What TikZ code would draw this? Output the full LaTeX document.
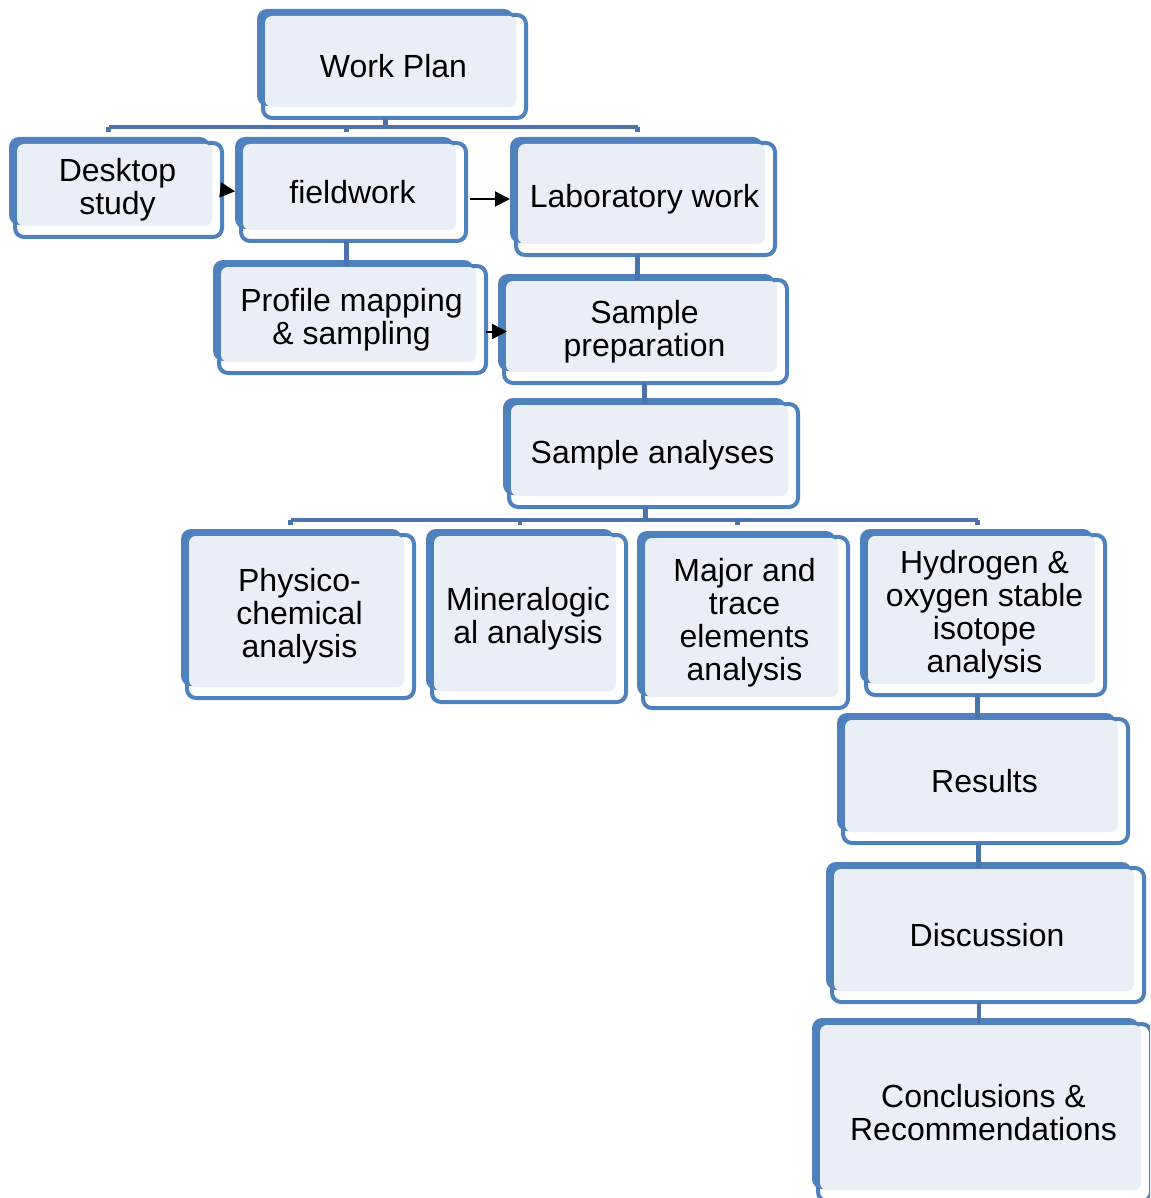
\documentclass[tikz,border=0pt]{standalone}
\usepackage{fontspec}
\setmainfont{Liberation Sans}
\usetikzlibrary{arrows.meta,calc}
\definecolor{boxblue}{HTML}{4F81BD}
\definecolor{lightfill}{HTML}{EAEFF7}
\definecolor{connblue}{HTML}{4A74AA}
\tikzset{
  frame/.style={draw=boxblue, line width=4pt, fill=white, rounded corners=9pt, rectangle, inner sep=0pt, outer sep=0pt},
  conn/.style={draw=connblue, line width=4.5pt},
  arr/.style={draw=black, line width=2pt, -{Triangle[length=15pt,width=15pt]}},
  lbl/.style={align=center, font=\fontsize{32}{33}\selectfont, text=black, inner sep=0pt}
}
% name, x0, y0, x1, y1, text
\newcommand\mybox[6]{%
  \node[frame, minimum width={#4-#2-8}, minimum height={#5-#3-8}] (#1) at ({(#2+#4+4)/2},{(#3+#5+4)/2}) {};
  \fill[boxblue, rounded corners=10pt] (#2,#3) rectangle ({#4-14},{#5-14});
  \fill[lightfill, rounded corners=7pt] ({#2+8},{#3+7}) rectangle ({#4-12},{#5-13});
  \node[lbl] (#1-t) at ({(#2+#4)/2+1},{(#3+#5)/2+2}) {#6};
}
\begin{document}
\begin{tikzpicture}[x=1pt,y=-1pt]
\useasboundingbox (0,0) rectangle (1150,1198);
\clip (0,0) rectangle (1150,1198);
\fill[white] (0,0) rectangle (1150,1198);
\coordinate (busA) at (0,127);
\coordinate (busB) at (0,520);

\mybox{wp}{257}{9}{528}{120}{Work Plan}
\mybox{ds}{9}{137}{224}{239}{Desktop\\study}
\mybox{fw}{235}{137}{468}{243}{fieldwork}
\mybox{lw}{510}{137}{777}{257}{Laboratory work}
\mybox{pm}{213}{260}{488}{375}{Profile mapping\\\& sampling}
\mybox{sp}{498}{274}{789}{385}{Sample\\preparation}
\mybox{sa}{503}{398}{800}{509}{Sample analyses}
\mybox{pc}{181}{529}{416}{700}{Physico-\\chemical\\analysis}
\mybox{mi}{426}{529}{628}{704}{Mineralogic\\al analysis}
\mybox{mt}{637}{531}{850}{710}{Major and\\trace\\elements\\analysis}
\mybox{hy}{860}{529}{1107}{697}{Hydrogen \&\\oxygen stable\\isotope\\analysis}
\mybox{re}{837}{713}{1130}{845}{Results}
\mybox{di}{826}{862}{1146}{1004}{Discussion}
\mybox{co}{812}{1018}{1153}{1203}{Conclusions \&\\Recommendations}

% connectors (top bus)
\draw[conn] ([xshift=-10pt]ds.north |- busA) -- ([xshift=-8pt]lw.north |- busA);
\draw[conn] ([xshift=-9pt]wp.south) -- ([xshift=-9pt]wp.south |- busA);
\draw[conn] ([xshift=-10pt]ds.north |- busA) -- ++(0,5);
\draw[conn] ([xshift=-7pt]fw.north |- busA) -- ++(0,5);
\draw[conn] ([xshift=-8pt]lw.north |- busA) -- ++(0,5);
\draw[conn] ([xshift=-7pt]fw.south) -- ([xshift=-7pt]fw.south |- pm.north);
\draw[conn] ([xshift=-8pt]lw.south) -- ([xshift=-8pt]lw.south |- sp.north);
\draw[conn] ([xshift=-1pt]sp.south) -- ([xshift=-1pt]sp.south |- sa.north);
% lower bus
\draw[conn] ([xshift=-10pt]pc.north |- busB) -- ([xshift=-8pt]hy.north |- busB);
\draw[conn] ([xshift=-8pt]sa.south) -- ([xshift=-8pt]sa.south |- busB);
\draw[conn] ([xshift=-10pt]pc.north |- busB) -- ++(0,5);
\draw[conn] ([xshift=-9pt]mi.north |- busB) -- ++(0,5);
\draw[conn] ([xshift=-8pt]mt.north |- busB) -- ++(0,5);
\draw[conn] ([xshift=-8pt]hy.north |- busB) -- ++(0,5);
\draw[conn] ([xshift=-8pt]hy.south) -- ([xshift=-8pt]hy.south |- re.north);
\draw[conn] ([xshift=-7pt]re.south) -- ([xshift=-7pt]re.south |- di.north);
\draw[conn] ([xshift=-9pt]di.south) -- ([xshift=-9pt]di.south |- co.north);

% arrows
\draw[arr, shorten >=6pt] (ds.east) -- (fw.west);
\draw[arr, shorten <=4pt, shorten >=6pt] (fw.east |- lw.west) -- (lw.west);
\draw[arr, shorten >=-3pt] (pm.east |- sp.west) -- (sp.west);
\end{tikzpicture}
\end{document}
